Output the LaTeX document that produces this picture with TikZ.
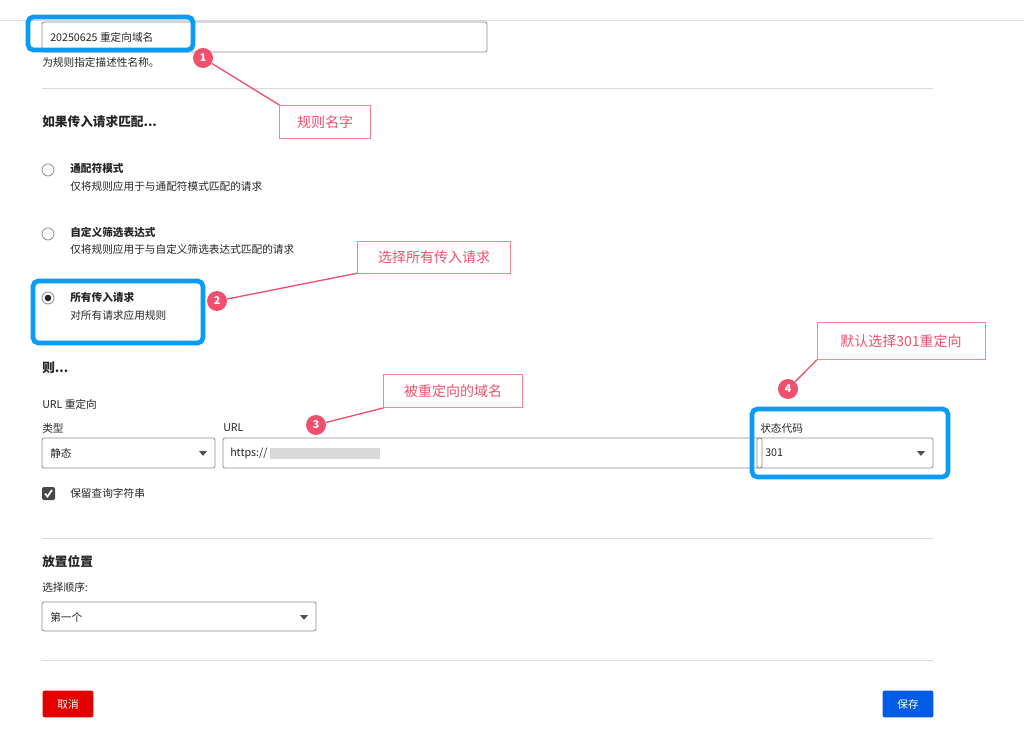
\documentclass[tikz,border=0pt]{standalone}
\usepackage{fontspec}
\setmainfont{Noto Sans CJK SC}
\usetikzlibrary{positioning,shapes.geometric}
\definecolor{hiblue}{HTML}{0A9BF5}
\definecolor{mark}{HTML}{F0506E}
\definecolor{rule}{HTML}{D9D9D9}
\definecolor{boxline}{HTML}{8C8C8C}
\definecolor{txt}{HTML}{262626}
\tikzset{
  lbl/.style={anchor=west,inner sep=0pt,font=\fontsize{8}{9}\selectfont,text=txt},
  head/.style={lbl,font=\fontsize{9.5}{11}\selectfont\bfseries},
  opt/.style={lbl,font=\fontsize{8}{9}\selectfont\bfseries},
  field/.style={draw=boxline,rounded corners=1.5pt,line width=0.6pt},
  hilite/.style={draw=hiblue,line width=3.5pt,rounded corners=4pt},
  num/.style={circle,fill=mark,text=white,inner sep=0pt,minimum size=15pt,font=\fontsize{8}{9}\selectfont\bfseries},
  callout/.style={draw=mark!70,fill=white,text=mark,inner sep=0pt,font=\fontsize{10.5}{12}\selectfont},
  pointer/.style={draw=mark,line width=1pt},
  radio/.style={circle,draw=boxline,line width=0.6pt,minimum size=9pt,inner sep=0pt},
  caret/.style={isosceles triangle,shape border rotate=-90,fill=txt!80,inner sep=0pt,minimum width=6pt,minimum height=3.5pt,isosceles triangle stretches},
  btn/.style={rounded corners=1.5pt,text=white,inner sep=0pt,minimum width=38pt,minimum height=20pt,font=\fontsize{8}{9}\selectfont}
}
\begin{document}
\begin{tikzpicture}[x=0.75pt,y=-0.75pt]
\useasboundingbox[fill=white] (0,0) rectangle (1024,730);
\draw[rule] (0,20) -- (1024,20);
\foreach \y in {88,538,660} \draw[rule] (42,\y) -- (933,\y);

% rule name
\draw[field] (42,22) rectangle (487,52);
\node[lbl] (name) at (50,37) {20250625 重定向域名};
\draw[hilite] (28,17) rectangle (193,50);
\node[lbl] at (42,62) {为规则指定描述性名称。};

\node[head] at (42,122) {如果传入请求匹配...};
\node[radio] (r1) at (48,170) {};
\node[opt] at (70,168) {通配符模式};
\node[lbl] at (70,186) {仅将规则应用于与通配符模式匹配的请求};
\node[radio] (r2) at (48,234) {};
\node[opt] at (70,232) {自定义筛选表达式};
\node[lbl] at (70,249) {仅将规则应用于与自定义筛选表达式匹配的请求};
\node[radio] (r3) at (48,298) {};
\fill[txt] (r3) circle (3.3);
\node[opt] at (70,297) {所有传入请求};
\node[lbl] at (70,315) {对所有请求应用规则};
\draw[hilite] (33,281) rectangle (203,343);

\node[head] at (42,368) {则...};
\node[lbl] at (42,404) {URL 重定向};
\node[lbl] at (42,428) {类型};
\draw[field] (42,438) rectangle (215,468);
\node[lbl] at (50,453) {静态};
\node[caret] at (203,453) {};
\node[lbl] at (223,428) {URL};
\draw[field] (223,438) rectangle (762,468);
\node[lbl] (url) at (230,453) {https://};
\fill[gray!30] (270,448) rectangle (380,459);
\node[lbl] at (760,428) {状态代码};
\draw[field] (757,438) rectangle (933,468);
\node[lbl] at (765,453) {301};
\node[caret] at (921,453) {};
\draw[hilite] (752,409) rectangle (948,477);

\fill[txt!85,rounded corners=1.5pt] (42,487) rectangle (55,500);
\draw[white,line width=1.3pt] (45,493.5) -- (47.5,496.5) -- (52,490);
\node[lbl] at (70,493) {保留查询字符串};

\node[head] at (42,562) {放置位置};
\node[lbl] at (42,587) {选择顺序:};
\draw[field] (42,602) rectangle (316,631);
\node[lbl] at (50,617) {第一个};
\node[caret] at (304,617) {};

\node[btn,fill=red!90!black] (cancel) at (68,704) {取消};
\node[btn,fill=blue!60!cyan!90!black] (save) at (908,704) {保存};

% annotations
\node[callout,minimum width=68pt,minimum height=25pt] (c1) at (325,122) {规则名字};
\node[callout,minimum width=115pt,minimum height=24pt] (c2) at (434,257) {选择所有传入请求};
\node[callout,minimum width=104pt,minimum height=25pt] (c3) at (453,391) {被重定向的域名};
\node[callout,minimum width=126pt,minimum height=28pt] (c4) at (901,341) {默认选择301重定向};
\node[num] (n1) at (203,58) {1};
\node[num] (n2) at (217,301) {2};
\node[num] (n3) at (316,425) {3};
\node[num] (n4) at (788,389) {4};
\draw[pointer] (n1) -- (c1.north west);
\draw[pointer] (n2) -- (c2.south west);
\draw[pointer] (n3) -- (c3.south west);
\draw[pointer] (n4) -- (c4.south west);
\end{tikzpicture}
\end{document}
